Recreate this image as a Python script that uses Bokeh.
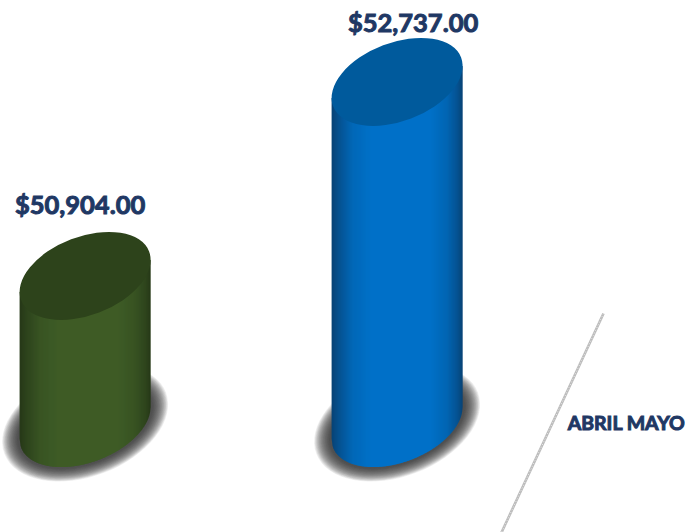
import numpy as np
from bokeh.plotting import figure
from bokeh.models import ColumnDataSource
from bokeh.core.properties import value
from bokeh.embed import file_html
from bokeh.resources import INLINE

months = ["ABRIL", "MAYO"]
amounts = [50904.0, 52737.0]
amount_labels = ["$50,904.00", "$52,737.00"]

W, H = 685, 532
PX_PER_BAR = 312.0
PX_PER_USD = 194.0 / 1833.0
BAR0_PX = 84.6
BASE_PX = 422.6
BASE_USD = amounts[0] - (BASE_PX - 275.4) / PX_PER_USD

HW, HH, COV = 65.5, 44.0, 1048.0
lam_m = (HW**2 + HH**2) / 2
lam_d = (HW**2 - HH**2) / 2
lam_r = np.hypot(lam_d, COV)
A = np.sqrt(lam_m + lam_r)
B = np.sqrt(lam_m - lam_r)
THETA = 0.5 * np.arctan2(2 * COV, HW**2 - HH**2)
DET = np.sqrt((lam_m + lam_r) * (lam_m - lam_r))


def xd(px):
    return (np.asarray(px, dtype=float) - BAR0_PX) / PX_PER_BAR


def yd(py):
    return BASE_USD + (BASE_PX - np.asarray(py, dtype=float)) / PX_PER_USD


p = figure(width=W, height=H, output_backend="svg", toolbar_location=None,
           x_range=(float(xd(0)), float(xd(W))), y_range=(float(yd(H)), float(yd(0))),
           min_border=0, outline_line_color=None, background_fill_color="white",
           border_fill_color="white")
p.axis.visible = False
p.grid.visible = False

stops_t = [0.0, 0.05, 0.16, 0.30, 0.75, 0.88, 0.96, 1.0]
stops_k = [0.0, 0.30, 0.80, 1.0, 1.0, 0.75, 0.35, 0.0]
styles = [
    dict(edge=(38, 56, 24), mid=(62, 92, 38), cap="#2d431b"),
    dict(edge=(8, 66, 116), mid=(0, 113, 200), cap="#005a9c"),
]

for i, (amt, st) in enumerate(zip(amounts, styles)):
    cx_px = BAR0_PX + PX_PER_BAR * i
    top_px = BASE_PX - (amt - BASE_USD) * PX_PER_USD

    n = 24
    for j in range(n):
        f = j / (n - 1)
        grow = 18 - 16 * f
        p.ellipse([i], [BASE_USD], width=2 * (A + grow), height=2 * (B + grow * 0.78),
                  width_units="screen", height_units="screen", angle=THETA,
                  fill_color="#333333", fill_alpha=0.065, line_color=None)

    edges = np.arange(-HW, HW + 0.01, 1.0)
    edges[-1] = HW
    xs, ys, cols = [], [], []
    for a, b in zip(edges[:-1], edges[1:]):
        t = ((a + b) / 2 + HW) / (2 * HW)
        k = np.interp(t, stops_t, stops_k)
        c = [int(round(e + (m - e) * k)) for e, m in zip(st["edge"], st["mid"])]
        b2 = min(b + 0.6, HW)

        def low(dx):
            return BASE_PX - dx * COV / HW**2 + DET / HW**2 * np.sqrt(max(HW**2 - dx**2, 0))

        def upp(dx):
            return top_px - dx * COV / HW**2

        xs.append(xd([cx_px + a, cx_px + b2, cx_px + b2, cx_px + a]).tolist())
        ys.append(yd([upp(a), upp(b2), low(b2), low(a)]).tolist())
        cols.append("#%02x%02x%02x" % tuple(c))
    p.patches(xs, ys, fill_color=cols, line_color=None)

    p.ellipse([i], [amt], width=2 * A, height=2 * B, width_units="screen",
              height_units="screen", angle=THETA, fill_color=st["cap"], line_color=None)

label_dx = [-5, 16]
label_dy = [-71.5, -60]
src = ColumnDataSource(dict(x=[0, 1], y=amounts, t=amount_labels, dx=label_dx, dy=label_dy))
p.text("x", "y", text="t", source=src, x_offset="dx", y_offset="dy",
       text_font=value("Lato"), text_font_style="bold", text_font_size="25.5px",
       text_color="#1f3864", text_outline_color="#1f3864", text_align="center",
       text_baseline="middle")

p.line(xd([603, 501]), yd([313, 532]), line_color="#bcbcbc", line_width=2.6)
p.line(xd([603, 501]), yd([313, 532]), line_color="#ececec", line_width=1, line_dash="1 2")
p.text([xd(626)], [yd(421.5)], text=[" ".join(months)], text_font=value("Lato"),
       text_font_style="bold", text_font_size="19.5px", text_color="#1f3864",
       text_outline_color="#1f3864", text_align="center", text_baseline="middle")

open("out.html", "w").write(file_html(p, INLINE))
